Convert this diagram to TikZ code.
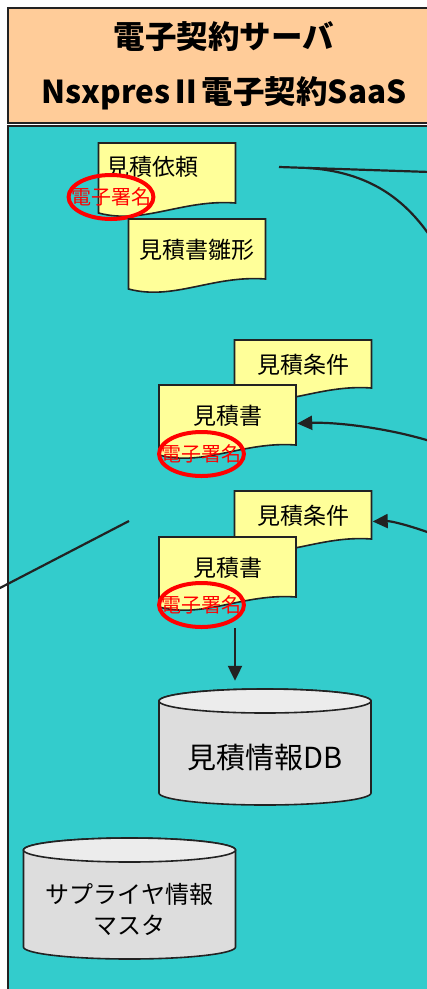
\documentclass[tikz,border=0pt]{standalone}
\usepackage{fontspec}
\setmainfont{Noto Sans CJK JP}
\usetikzlibrary{shapes.geometric,arrows.meta}
\definecolor{myorange}{RGB}{255,204,153}
\definecolor{myteal}{RGB}{51,204,204}
\definecolor{myyellow}{RGB}{255,255,153}
\definecolor{mygraybody}{RGB}{221,221,221}
\definecolor{mygraytop}{RGB}{236,236,236}
\definecolor{mydarkline}{RGB}{34,34,34}
\definecolor{mysignred}{RGB}{255,0,0}
\newcommand{\widthdoc}{139pt}
\newcommand{\heightdoc}{75pt}
\newcommand{\heightshortdoc}{63pt}
\newcommand{\widthdb}{214pt}
\newcommand{\radiusdb}{106pt}
\newcommand{\docfont}{\fontsize{23}{23}\selectfont}
\tikzset{
    common/.style={draw=mydarkline, line width=1.6pt},
    panel/.style={common, rectangle, minimum width=432pt},
    docline/.style={common, fill=myyellow},
    dbline/.style={common, fill=mygraybody},
    doc/.style={rectangle, inner sep=0pt, minimum width=\widthdoc, minimum height=\heightdoc,
        text height=17pt, text depth=12pt, font=\docfont,
        path picture={
            \filldraw[docline]
                ([shift={(1pt,-1pt)}]path picture bounding box.north west)
                -- ([shift={(-1pt,-1pt)}]path picture bounding box.north east)
                -- ([shift={(-1pt,14pt)}]path picture bounding box.south east)
                .. controls ([shift={(-54pt,18pt)}]path picture bounding box.south east)
                and ([shift={(46pt,-8pt)}]path picture bounding box.south west)
                .. ([shift={(1pt,4pt)}]path picture bounding box.south west) -- cycle;
        }
    },
    shortdoc/.style={doc, minimum height=\heightshortdoc},
    sign/.style={draw=mysignred, ellipse, line width=4pt, inner xsep=-10pt, inner ysep=0pt,
        minimum height=44pt, text=mysignred, font=\fontsize{20}{20}\selectfont},
    db/.style={rectangle, inner sep=0pt, minimum width=\widthdb, align=center,
        path picture={
            \filldraw[dbline]
                ([shift={(1pt,-13pt)}]path picture bounding box.north west)
                -- ([shift={(1pt,13pt)}]path picture bounding box.south west)
                arc[start angle=180, end angle=360, x radius=\radiusdb, y radius=12pt]
                -- ([shift={(-1pt,-13pt)}]path picture bounding box.north east)
                arc[start angle=0, end angle=180, x radius=\radiusdb, y radius=12pt] -- cycle;
            \filldraw[common, fill=mygraytop]
                ([yshift=-13pt]path picture bounding box.north) ellipse[x radius=\radiusdb, y radius=12pt];
        }
    },
    link/.style={draw=mydarkline, line width=2.2pt},
    >={Triangle[length=15pt,width=14pt]}
}

\begin{document}
\begin{tikzpicture}[x=1pt, y=-1pt]
    \useasboundingbox (0,0) rectangle (427,989);
    \clip (0,0) rectangle (427,989);

    % server header and area
    \node[panel, fill=myorange, minimum height=115pt, align=center,
        font=\fontsize{31.5}{55}\selectfont\bfseries] (server) at (224,65.5)
        {電子契約サーバ\\NsxpresⅡ電子契約SaaS};
    \node[panel, fill=myteal, minimum height=874pt] (saas) at (224,563) {};

    % request and template
    \node[doc, text depth=25pt] (reqdoc) at (167,179.5) {見積依頼\hspace*{30pt}};
    \node[sign] (reqsign) at (111,197) {電子署名};
    \node[doc, text depth=11pt] (tmpldoc) at (197,255.5) {見積書雛形};

    % first estimate
    \node[shortdoc, text depth=11pt] (cond1) at (303,370.5) {見積条件};
    \node[doc] (est1) at (227.5,421.5) {見積書};
    \node[sign] (estsign1) at (201.5,454) {電子署名};

    % second estimate
    \node[shortdoc, text depth=11pt] (cond2) at (303,521.5) {見積条件};
    \node[doc] (est2) at (227.5,573.5) {見積書};
    \node[sign] (estsign2) at (201.5,605) {電子署名};

    % databases
    \node[db, minimum height=118pt, text height=48pt, text depth=6pt,
        font=\fontsize{29}{29}\selectfont] (estdb) at (265,747) {見積情報DB};
    \node[db, minimum height=123pt, text height=74pt, text depth=3pt,
        font=\fontsize{24}{31}\selectfont] (supdb) at (129.5,898.5) {サプライヤ情報\\マスタ};

    % connectors
    \coordinate (reqout) at (279,167);
    \coordinate (reqbranch) at (308,168);
    \coordinate (eastA) at (430,172);
    \coordinate (eastB) at (430,236);
    \coordinate (eastC) at (430,441);
    \coordinate (eastD) at (430,533);
    \coordinate (westE) at (-2,589);
    \coordinate (lineend) at (129,521);

    \draw[link] (reqout) -- (eastA);
    \draw[link] (reqbranch) .. controls (370,172) and (405,200) .. (eastB);
    \draw[link, ->] (eastC) .. controls (380,426) and (330,422) .. ([yshift=-2pt]est1.east);
    \draw[link, ->] (eastD) .. controls (405,524) and (390,521) .. (cond2.east);
    \draw[link] (westE) -- (lineend);
    \draw[link, ->, shorten <=17pt, shorten >=7pt] ([xshift=7.5pt]est2.south) -- ([xshift=-30pt]estdb.north);
\end{tikzpicture}
\end{document}
